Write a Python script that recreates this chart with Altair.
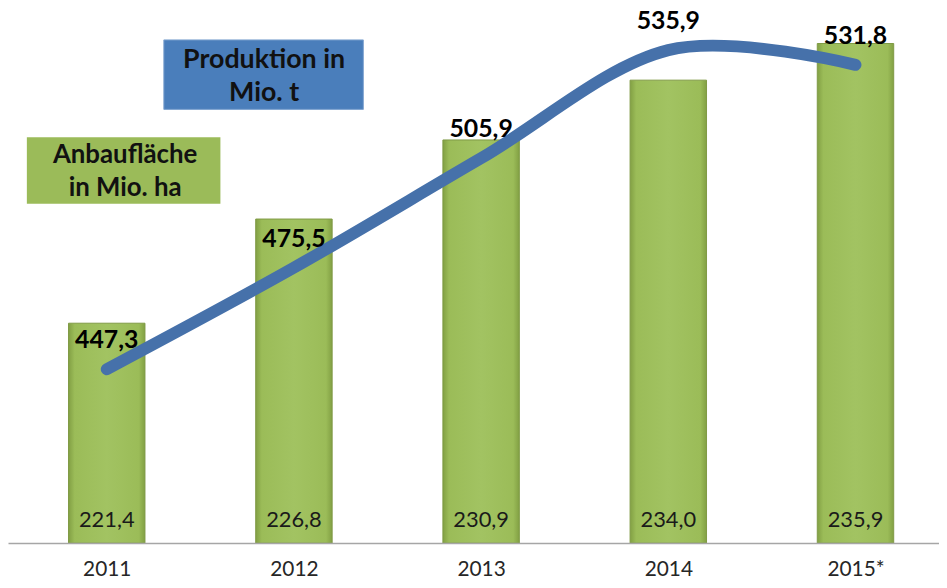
import json
import altair as alt
import pandas as pd

# ---- data ----
years = ["2011", "2012", "2013", "2014", "2015*"]
area = [221.4, 226.8, 230.9, 234.0, 235.9]          # Anbaufläche in Mio. ha (bars)
production = [447.3, 475.5, 505.9, 535.9, 531.8]    # Produktion in Mio. t (line)

legend_prod = ["Produktion in", "Mio. t"]
legend_area = ["Anbaufläche", "in Mio. ha"]

def de(v):
    return f"{v:.1f}".replace(".", ",")

df = pd.DataFrame({
    "idx": list(range(len(years))),
    "year": years,
    "area": area,
    "production": production,
    "area_lbl": [de(v) for v in area],
    "prod_lbl": [de(v) for v in production],
})

FONT = "Lato"
AREA_MIN = 210
W, H = 938, 537

label_expr = json.dumps(years) + "[datum.value]"

x = alt.X(
    "idx:Q",
    scale=alt.Scale(domain=[-0.501, 4.4196], nice=False, zero=False),
    axis=alt.Axis(
        values=list(range(len(years))), labelExpr=label_expr, title=None,
        grid=False, ticks=False, tickSize=0, domainColor="#A6A6A6", domainWidth=1.5,
        labelFont=FONT, labelFontSize=21, labelColor="#262626", labelPadding=16,
        zindex=1,
    ),
)

grad = alt.Gradient(
    gradient="linear",
    stops=[
        alt.GradientStop(color="#82A044", offset=0),
        alt.GradientStop(color="#9BBC58", offset=0.08),
        alt.GradientStop(color="#A2C362", offset=0.5),
        alt.GradientStop(color="#9BBC58", offset=0.92),
        alt.GradientStop(color="#82A044", offset=1),
    ],
    x1=0, x2=1, y1=0, y2=0,
)

yA = alt.Y("area:Q", scale=alt.Scale(domain=[AREA_MIN, 237.63], nice=False, zero=False), axis=None)

bars = alt.Chart(df).mark_bar(size=77, fill=grad, stroke="#7F9A45", strokeWidth=1).encode(
    x=x, y=yA, y2=alt.datum(AREA_MIN))
bar_text = alt.Chart(df).mark_text(
    font=FONT, fontSize=22, color="#1a1a1a", baseline="middle", dy=-23
).encode(x=x, y=alt.datum(AREA_MIN), text="area_lbl:N")

yP = alt.Y("production:Q", scale=alt.Scale(domain=[399, 547], nice=False, zero=False), axis=None)

line = alt.Chart(df).mark_line(
    interpolate="cardinal", strokeWidth=12, strokeCap="round", color="#4671AA"
).encode(x=x, y=yP)
line_text = alt.Chart(df).mark_text(
    font=FONT, fontSize=25, fontWeight="bold", color="#000000", baseline="middle", dy=-29
).encode(x=x, y=yP, text="prod_lbl:N")

one = pd.DataFrame({"k": [0]})
box_prod = alt.Chart(one).mark_rect(color="#4A7EBB", stroke="#7FA3D0", strokeWidth=1).encode(
    x=alt.value(157), x2=alt.value(358), y=alt.value(30), y2=alt.value(100))
box_prod_text = alt.Chart(one).mark_text(
    font=FONT, fontSize=27, fontWeight="bold", color="#111111", align="center",
    baseline="alphabetic", lineHeight=34,
).encode(x=alt.value(258), y=alt.value(58), text=alt.value(legend_prod))

box_area = alt.Chart(one).mark_rect(color="#9BBB59").encode(
    x=alt.value(19), x2=alt.value(214), y=alt.value(128), y2=alt.value(195))
box_area_text = alt.Chart(one).mark_text(
    font=FONT, fontSize=26, fontWeight="bold", color="#111111", align="center",
    baseline="alphabetic", lineHeight=33,
).encode(x=alt.value(118), y=alt.value(154), text=alt.value(legend_area))

chart = alt.layer(
    alt.layer(bars, bar_text),
    alt.layer(line, line_text),
    box_prod, box_prod_text, box_area, box_area_text,
).resolve_scale(y="independent").properties(
    width=W, height=H,
    autosize=alt.AutoSizeParams(type="none"),
    padding={"left": 0, "top": 0, "right": 0, "bottom": 34},
    background="white",
).configure_view(stroke=None)

chart.save("out.html", embed_options={"renderer": "svg", "actions": False})
